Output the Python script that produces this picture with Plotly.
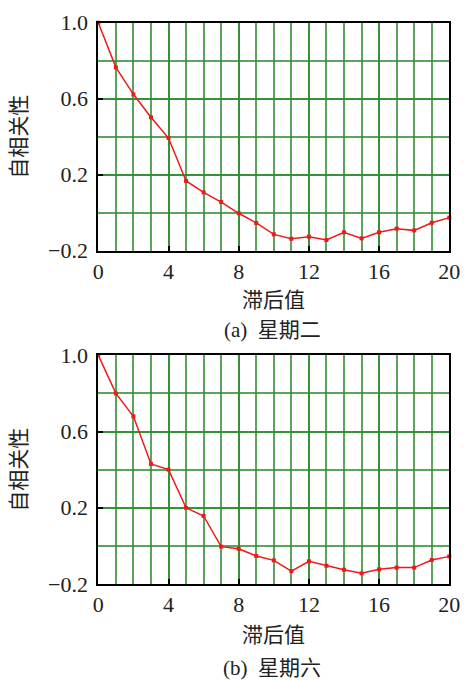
import plotly.graph_objects as go

lags = list(range(0, 21))
acf_tue = [1.0, 0.765, 0.623, 0.502, 0.393, 0.167, 0.107, 0.056, -0.003, -0.054, -0.114,
           -0.137, -0.126, -0.144, -0.103, -0.135, -0.103, -0.084, -0.093, -0.053, -0.026]
acf_sat = [1.0, 0.80, 0.68, 0.43, 0.40, 0.20, 0.157, -0.004, -0.015, -0.053, -0.076,
           -0.133, -0.081, -0.104, -0.125, -0.144, -0.123, -0.114, -0.114, -0.074, -0.055]
x_ticks = [0, 4, 8, 12, 16, 20]
y_ticks = [-0.2, 0.2, 0.6, 1.0]
y_ticktext = ["−0.2", "0.2", "0.6", "1.0"]
captions = ["(a)  星期二", "(b)  星期六"]
x_title = "滞后值"
y_title = "自相关性"

W, H = 465, 681
serif = "Liberation Serif"
cjk = "Liberation Serif, Noto Sans CJK SC"

fig = go.Figure()

# panel pixel boxes: (left, right, top, bottom)
panels = [(98.3, 449.3, 22.7, 250.7), (98.3, 449.3, 355.3, 584.0)]
series = [acf_tue, acf_sat]
cap_y = [330, 668]
xt_y = [300, 635]

grid_col = "rgba(45,140,45,0.78)"
gw = 1.6
for i, ((l, r, t, b), ys) in enumerate(zip(panels, series)):
    n = "" if i == 0 else str(i + 1)
    fig.add_trace(go.Scatter(
        x=lags, y=ys, mode="lines+markers",
        line=dict(color="#f01818", width=1.5),
        marker=dict(color="#f01818", size=4, symbol="square"),
        xaxis="x" + n, yaxis="y" + n, showlegend=False, cliponaxis=False))
    xd = [l / W, r / W]
    yd = [1 - b / H, 1 - t / H]
    fig.layout["xaxis" + n] = dict(
        domain=xd, range=[0, 20], anchor="y" + n, automargin=False,
        tickmode="array", tickvals=x_ticks, ticktext=[str(v) for v in x_ticks],
        ticks="inside", ticklen=5, tickwidth=2, tickcolor="black",
        showgrid=True, gridcolor=grid_col, gridwidth=gw,
        minor=dict(dtick=1, tick0=0, showgrid=True, gridcolor=grid_col, gridwidth=gw, ticks=""),
        showline=True, linecolor="black", linewidth=2, mirror=True,
        zeroline=False, tickfont=dict(family=serif, size=22, color="#222"),
        fixedrange=True)
    fig.layout["yaxis" + n] = dict(
        domain=yd, range=[-0.2, 1.0], anchor="x" + n, automargin=False,
        tickmode="array", tickvals=y_ticks, ticktext=y_ticktext,
        ticks="inside", ticklen=5, tickwidth=2, tickcolor="black",
        showgrid=True, gridcolor=grid_col, gridwidth=gw,
        minor=dict(dtick=0.2, tick0=-0.2, showgrid=True, gridcolor=grid_col, gridwidth=gw, ticks=""),
        showline=True, linecolor="black", linewidth=2, mirror=True,
        zeroline=False, tickfont=dict(family=serif, size=22, color="#222"),
        ticklabelstandoff=4, fixedrange=True)
    common = dict(xref="paper", yref="paper", showarrow=False,
                  xanchor="center", yanchor="middle")
    fig.add_annotation(text=x_title, x=(l + r) / 2 / W, y=1 - xt_y[i] / H,
                       font=dict(family=cjk, size=21, color="#222"), **common)
    fig.add_annotation(text=y_title, x=19 / W, y=1 - (t + b) / 2 / H, textangle=-90,
                       font=dict(family=cjk, size=21, color="#222"), **common)
    fig.add_annotation(text=captions[i], x=272 / W, y=1 - cap_y[i] / H,
                       font=dict(family=cjk, size=21, color="#222"), **common)

fig.update_layout(width=W, height=H, margin=dict(l=0, r=0, t=0, b=0, autoexpand=False),
                  paper_bgcolor="white", plot_bgcolor="white")
fig.write_html("out.html", config={"displayModeBar": False},
               post_script="document.body.style.margin='0';document.body.style.overflow='hidden';")
